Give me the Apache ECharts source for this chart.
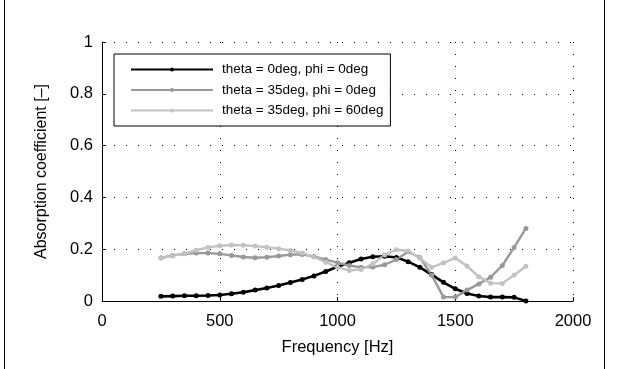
<!DOCTYPE html>
<html>
<head>
<meta charset="utf-8">
<script src="https://cdn.jsdelivr.net/npm/echarts@6/dist/echarts.min.js"></script>
<style>
  html, body { margin: 0; padding: 0; background: #fff; }
  #chart { width: 617px; height: 369px; }
</style>
</head>
<body>
<div id="chart"></div>
<script>
// frequencies 250..1800 Hz, 50 Hz apart
var freqs = [250, 300, 350, 400, 450, 500, 550, 600, 650, 700, 750, 800, 850, 900, 950, 1000,
  1050, 1100, 1150, 1200, 1250, 1300, 1350, 1400, 1450, 1500, 1550, 1600, 1650, 1700, 1750, 1800];

var seriesNames = ['theta = 0deg, phi = 0deg', 'theta = 35deg, phi = 0deg', 'theta = 35deg, phi = 60deg'];

var theta0phi0 = [0.018, 0.019, 0.020, 0.020, 0.021, 0.023, 0.028, 0.034, 0.042, 0.050, 0.060, 0.071,
  0.083, 0.097, 0.114, 0.132, 0.148, 0.162, 0.171, 0.173, 0.168, 0.152, 0.130, 0.102, 0.072, 0.047,
  0.029, 0.019, 0.015, 0.015, 0.014, 0.0];

var theta35phi0 = [0.166, 0.176, 0.182, 0.185, 0.185, 0.182, 0.176, 0.170, 0.167, 0.169, 0.174, 0.179,
  0.180, 0.172, 0.160, 0.148, 0.137, 0.130, 0.131, 0.140, 0.160, 0.190, 0.168, 0.100, 0.015, 0.015,
  0.042, 0.066, 0.092, 0.137, 0.207, 0.280];

var theta35phi60 = [0.167, 0.174, 0.183, 0.196, 0.207, 0.213, 0.216, 0.215, 0.212, 0.208, 0.202, 0.195,
  0.185, 0.170, 0.150, 0.130, 0.118, 0.122, 0.143, 0.178, 0.198, 0.193, 0.165, 0.130, 0.147, 0.166,
  0.135, 0.094, 0.069, 0.068, 0.100, 0.134];

var colors = ['#000000', '#999999', '#c2c2c2'];

function pairs(vals) {
  var out = [];
  for (var i = 0; i < freqs.length; i++) out.push([freqs[i], vals[i]]);
  return out;
}

var chart = echarts.init(document.getElementById('chart'), null, { renderer: 'canvas' });

var font = 'Liberation Sans, Arial, Helvetica, sans-serif';
var dotted = { color: '#000', width: 1, type: [1, 11] };

function makeSeries(name, vals, color, w) {
  return {
    name: name,
    type: 'line',
    data: pairs(vals),
    symbol: 'circle',
    symbolSize: 5,
    showSymbol: true,
    lineStyle: { color: color, width: w },
    itemStyle: { color: color },
    clip: true,
    animation: false
  };
}

var option = {
  backgroundColor: '#fff',
  animation: false,
  textStyle: { fontFamily: font },
  grid: { left: 102, top: 42, width: 471, height: 259, containLabel: false },
  legend: {
    orient: 'vertical',
    left: 114,
    top: 54,
    padding: [8, 7, 8, 16],
    itemWidth: 82,
    itemHeight: 5,
    itemGap: 5.5,
    backgroundColor: '#fff',
    borderColor: '#000',
    borderWidth: 1,
    borderRadius: 0,
    textStyle: { fontFamily: font, fontSize: 13.5, color: '#000', padding: [0, 0, 0, 4], lineHeight: 15 },
    data: seriesNames
  },
  xAxis: {
    type: 'value',
    min: 0,
    max: 2000,
    interval: 500,
    name: 'Frequency [Hz]',
    nameLocation: 'middle',
    nameGap: 38,
    nameTextStyle: { fontFamily: font, fontSize: 16.5, color: '#000' },
    axisLine: { show: true, onZero: false, lineStyle: { color: '#000', width: 1 } },
    axisTick: { show: true, inside: true, length: 4, lineStyle: { color: '#000' } },
    axisLabel: { fontFamily: font, fontSize: 16.5, color: '#000', margin: 12, formatter: function (v) { return String(v); } },
    splitLine: { show: true, lineStyle: dotted }
  },
  yAxis: {
    type: 'value',
    min: 0,
    max: 1,
    interval: 0.2,
    name: 'Absorption coefficient [–]',
    nameLocation: 'middle',
    nameGap: 52,
    nameTextStyle: { fontFamily: font, fontSize: 16, color: '#000' },
    axisLine: { show: true, lineStyle: { color: '#000', width: 1 } },
    axisTick: { show: true, inside: true, length: 4, lineStyle: { color: '#000' } },
    axisLabel: { fontFamily: font, fontSize: 16.5, color: '#000', margin: 9 },
    splitLine: { show: true, lineStyle: dotted }
  },
  graphic: [
    { type: 'line', shape: { x1: 4.5, y1: 0, x2: 4.5, y2: 369 }, style: { stroke: '#000', lineWidth: 1 } },
    { type: 'line', shape: { x1: 604.5, y1: 0, x2: 604.5, y2: 369 }, style: { stroke: '#000', lineWidth: 1 } }
  ],
  series: [
    makeSeries(seriesNames[0], theta0phi0, colors[0], 2.6),
    makeSeries(seriesNames[1], theta35phi0, colors[1], 2.4),
    makeSeries(seriesNames[2], theta35phi60, colors[2], 2.4)
  ]
};

chart.setOption(option);
</script>
</body>
</html>
